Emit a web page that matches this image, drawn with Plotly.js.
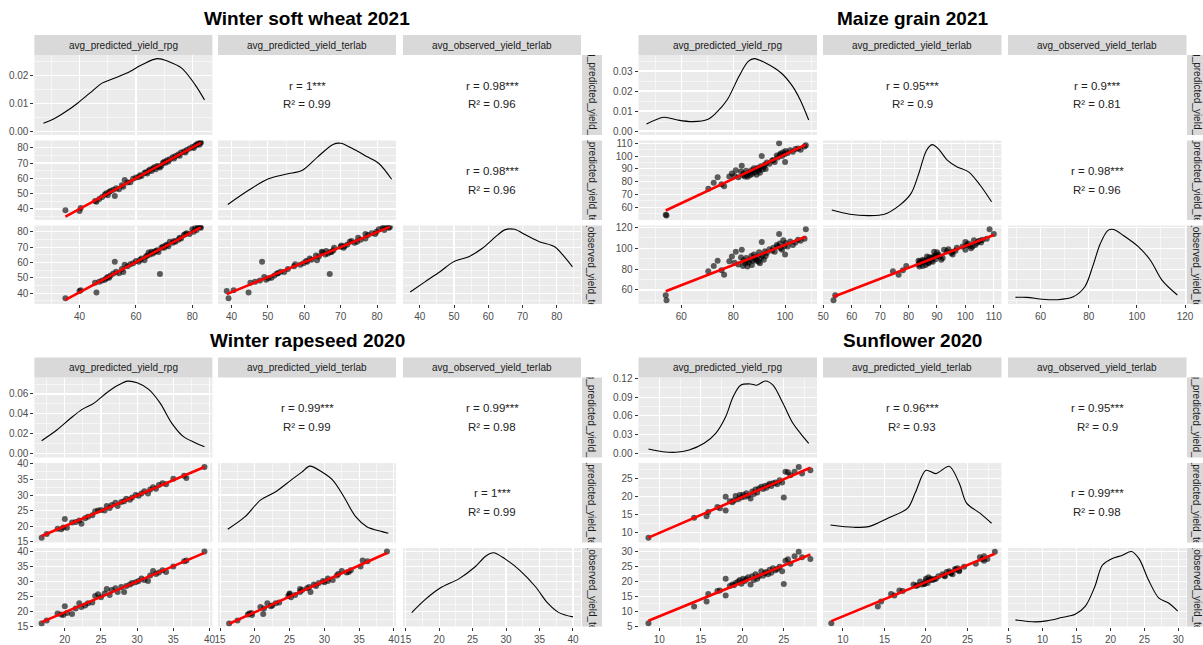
<!DOCTYPE html>
<html><head><meta charset="utf-8">
<script src="https://cdn.plot.ly/plotly-3.0.1.min.js"></script>
<style>html,body{margin:0;padding:0;background:#fff;}#chart{width:1203px;height:645px;}</style>
</head><body><div id="chart"></div>
<script>
// ---------------- DATA ----------------
const TITLES = ["Winter soft wheat 2021", "Maize grain 2021", "Winter rapeseed 2020", "Sunflower 2020"];
const VAR_LABELS = ["avg_predicted_yield_rpg", "avg_predicted_yield_terlab", "avg_observed_yield_terlab"];

// Winter soft wheat 2021
const wheatRpg  = [35.0,40.0,40.4,45.5,46.0,47.0,48.0,49.0,49.5,50.0,50.5,51.0,52.0,52.5,53.0,54.0,55.0,55.5,56.0,57.0,58.0,59.0,60.0,61.0,61.5,62.0,63.0,63.5,64.0,64.5,65.0,65.5,66.0,66.5,67.0,67.5,68.0,68.5,69.0,69.5,70.0,70.5,71.0,71.5,72.0,73.0,73.5,74.0,75.0,75.5,76.0,77.0,77.5,78.0,79.0,80.0,80.5,81.0,81.5,82.0,82.5,83.0,82.8];
const wheatPred = [39.2,38.7,40.6,45.2,44.7,46.5,47.8,49.5,50.2,49.0,51.0,51.8,52.5,48.4,53.5,52.8,55.5,54.5,58.9,57.2,57.5,59.8,60.5,60.8,62.0,61.5,63.5,64.0,63.2,65.0,65.8,64.8,66.5,67.2,66.0,68.0,67.5,67.0,68.2,70.0,70.8,70.2,71.8,71.0,72.5,73.8,73.0,74.5,75.5,74.8,76.8,77.5,76.8,78.5,79.5,80.5,79.8,81.5,82.0,82.8,82.0,83.2,83.5];
const wheatObs  = [36.8,41.5,42.0,46.8,40.5,47.5,48.3,48.8,49.8,50.5,50.0,51.5,52.8,60.5,54.0,53.0,55.8,53.8,58.5,57.5,58.8,59.5,61.0,60.5,61.8,62.5,61.5,63.8,64.5,66.5,65.2,67.0,65.8,66.8,67.5,68.0,66.8,52.5,69.5,70.2,69.5,71.0,71.5,70.5,73.5,72.8,74.0,73.5,74.8,76.0,75.5,77.8,78.5,79.0,78.5,81.5,80.0,82.5,81.0,83.2,83.5,82.5,83.0];
const wheatDensRpgX  = [27.2,31.3,35.3,39.3,43.6,48.0,51.4,56.8,62.1,67.5,71.5,76.2,81.0,84.3];
const wheatDensRpgY  = [0.0030,0.0048,0.0073,0.0102,0.0138,0.0174,0.0188,0.0210,0.0240,0.0262,0.0252,0.0228,0.0168,0.0114];
const wheatDensPredX = [39.0,44.8,50.0,55.2,59.5,63.7,67.9,70.0,73.1,77.3,80.5,84.0];
const wheatDensPredY = [0.0044,0.0096,0.0136,0.0154,0.0168,0.0216,0.0261,0.0265,0.0247,0.0216,0.0192,0.0135];
const wheatDensObsX  = [37.2,41.5,45.9,49.8,54.3,58.2,62.7,64.8,67.7,71.0,74.9,79.4,82.2,84.6];
const wheatDensObsY  = [0.0032,0.0069,0.0106,0.0142,0.0161,0.0191,0.0240,0.0259,0.0261,0.0240,0.0216,0.0197,0.0161,0.0124];
const wheatR  = ["r = 1***", "r = 0.98***", "r = 0.98***"];
const wheatR2 = ["R² = 0.99", "R² = 0.96", "R² = 0.96"];

// Maize grain 2021
const maizeRpg  = [54.0,54.3,70.4,72.5,74.0,75.5,76.5,78.5,79.5,80.5,81.0,82.0,83.0,83.3,83.8,84.0,84.5,85.0,85.2,85.5,86.0,86.5,87.0,87.2,87.5,88.0,88.3,88.6,89.0,89.5,89.8,90.0,90.3,90.7,91.0,91.3,91.8,92.2,92.5,93.0,94.0,95.0,95.5,96.0,96.8,97.2,97.7,98.0,98.3,98.8,99.3,99.8,100.0,100.2,101.0,102.0,103.0,104.0,105.0,106.0,107.5,108.0];
const maizePred = [54.2,53.6,74.5,79.2,83.5,78.0,76.5,84.0,86.5,84.5,89.0,83.5,88.0,92.5,85.0,86.5,84.0,88.5,85.5,83.8,87.0,85.0,89.0,86.0,88.0,90.5,87.2,89.5,85.5,91.0,88.5,90.0,87.0,92.0,100.0,89.5,91.5,93.5,90.0,95.0,94.0,96.5,97.0,95.5,100.5,99.0,110.0,101.0,102.0,100.0,103.0,101.5,95.5,104.0,102.5,104.5,103.5,105.5,106.0,105.0,107.5,108.5];
const maizeObs  = [55.0,50.2,78.0,83.0,88.0,79.0,74.5,87.5,92.0,86.0,96.5,84.5,91.0,98.5,83.0,88.5,85.5,90.5,87.0,82.5,86.0,89.0,92.5,84.0,88.0,94.0,91.0,89.5,88.0,92.0,87.0,96.0,85.5,90.5,106.0,93.0,89.0,97.0,92.5,95.5,99.0,97.5,100.5,96.5,103.0,101.5,113.5,104.5,100.0,98.5,107.5,102.0,94.0,105.0,101.5,106.5,103.0,105.5,108.0,107.0,109.0,118.0];
const maizeDensRpgX  = [46.6,53.3,58.5,64.4,70.3,73.3,77.7,82.2,85.8,88.1,92.5,98.5,102.9,105.8,109.1];
const maizeDensRpgY  = [0.0035,0.0069,0.0055,0.0047,0.0059,0.0089,0.0156,0.0273,0.0348,0.0362,0.0340,0.0290,0.0223,0.0156,0.0055];
const maizeDensPredX = [53.0,59.3,66.1,71.5,76.9,80.9,83.6,86.3,88.3,90.4,93.7,97.1,101.1,105.2,109.2];
const maizeDensPredY = [0.0030,0.0009,0.0002,0.0009,0.0055,0.0114,0.0214,0.0330,0.0359,0.0339,0.0280,0.0247,0.0222,0.0155,0.0072];
const maizeDensObsX  = [49.6,54.4,60.8,67.2,73.6,78.4,81.6,84.8,88.0,90.4,94.4,100.8,105.6,110.4,116.8];
const maizeDensObsY  = [0.0014,0.0014,0.0004,0.0002,0.0017,0.0068,0.0169,0.0287,0.0355,0.0360,0.0329,0.0270,0.0203,0.0102,0.0026];
const maizeR  = ["r = 0.95***", "r = 0.9***", "r = 0.98***"];
const maizeR2 = ["R² = 0.9", "R² = 0.81", "R² = 0.96"];

// Winter rapeseed 2020
const rapeRpg  = [16.8,17.5,19.0,19.5,19.8,20.0,20.3,21.0,21.5,22.0,22.3,22.8,23.2,23.8,24.2,24.6,25.0,25.5,25.8,26.2,26.5,27.0,27.3,27.8,28.2,28.5,29.0,29.3,29.8,30.2,30.6,31.0,31.5,31.8,32.2,32.6,33.0,33.5,34.0,35.0,36.5,36.8,39.3];
const rapePred = [16.3,17.5,19.2,19.0,19.6,22.3,19.5,21.2,21.3,21.8,20.8,22.5,23.0,23.5,24.8,25.0,25.2,25.0,26.5,25.8,26.8,27.5,26.5,27.8,28.0,28.8,28.5,29.2,30.0,29.8,30.5,31.2,30.5,31.8,32.5,32.0,33.2,33.8,33.5,35.2,36.2,35.5,39.0];
const rapeObs  = [16.0,17.0,19.3,19.0,18.8,21.8,19.5,19.2,21.0,22.8,21.5,22.0,22.8,23.0,25.2,25.8,24.8,26.0,27.5,25.5,27.2,27.8,26.5,28.2,26.5,28.5,29.0,29.5,29.8,30.2,31.0,30.5,30.2,32.0,33.5,32.5,33.0,33.8,33.2,35.0,36.8,37.0,40.0];
const rapeDensRpgX  = [16.8,18.9,20.8,22.4,24.0,25.8,27.4,28.7,30.0,31.6,33.2,34.8,36.4,38.0,39.3];
const rapeDensRpgY  = [0.0127,0.0235,0.0354,0.0444,0.0505,0.0612,0.0690,0.0730,0.0713,0.0646,0.0505,0.0303,0.0168,0.0107,0.0067];
const rapeDensPredX = [16.1,18.6,20.8,23.0,25.2,26.8,27.9,29.6,31.2,32.8,34.5,36.1,38.3,39.2];
const rapeDensPredY = [0.0092,0.0220,0.0389,0.0474,0.0592,0.0677,0.0735,0.0677,0.0592,0.0423,0.0220,0.0118,0.0068,0.0051];
const rapeDensObsX  = [15.9,17.9,20.1,23.0,25.3,27.0,28.1,29.9,32.1,34.4,36.2,37.9,40.0];
const rapeDensObsY  = [0.0100,0.0234,0.0351,0.0451,0.0568,0.0685,0.0718,0.0652,0.0534,0.0367,0.0200,0.0100,0.0056];
const rapeR  = ["r = 0.99***", "r = 0.99***", "r = 1***"];
const rapeR2 = ["R² = 0.99", "R² = 0.98", "R² = 0.99"];

// Sunflower 2020
const sunRpg  = [8.7,14.2,15.7,15.9,17.0,17.3,18.0,18.0,18.5,18.8,19.0,19.2,19.5,19.7,19.9,20.1,20.3,20.5,20.7,21.0,21.2,21.4,21.6,21.8,22.0,22.3,22.5,22.7,22.9,23.1,23.3,23.5,23.7,24.0,24.2,24.5,24.8,25.0,25.2,25.5,25.8,26.3,26.8,27.2,28.2];
const sunPred = [8.6,14.2,14.6,15.8,17.2,16.8,20.0,16.2,18.8,18.5,19.0,20.2,19.3,20.5,19.8,20.6,20.0,21.0,20.3,19.5,21.5,20.8,22.0,21.2,22.3,22.8,22.2,23.0,22.5,23.2,23.6,23.0,23.8,24.0,23.5,24.6,24.0,19.8,27.0,26.8,26.0,27.0,28.3,26.5,27.4];
const sunObs  = [6.0,11.6,13.3,15.8,16.8,17.0,21.0,15.3,18.5,19.0,18.8,19.5,20.0,20.5,19.3,21.0,20.2,20.8,21.5,19.0,21.8,20.5,22.5,21.0,21.8,23.5,22.0,22.8,23.2,22.5,24.0,23.0,24.5,23.8,24.2,25.0,23.5,19.2,27.0,27.5,26.0,28.5,30.0,28.2,27.6];
const sunDensRpgX  = [8.7,10.4,12.0,13.6,15.4,16.8,18.0,18.9,19.8,21.0,21.7,22.8,23.7,24.9,26.1,27.0,28.0];
const sunDensRpgY  = [0.0069,0.0026,0.0016,0.0053,0.0160,0.0320,0.0586,0.0906,0.1090,0.1110,0.1090,0.1157,0.1090,0.0800,0.0480,0.0320,0.0160];
const sunDensPredX = [8.5,11.3,13.1,15.4,17.8,18.7,20.0,21.2,22.8,24.0,24.9,26.5,27.9];
const sunDensPredY = [0.0215,0.0178,0.0188,0.0324,0.0486,0.0729,0.1095,0.1042,0.1160,0.0891,0.0567,0.0405,0.0243];
const sunDensObsX  = [6.0,8.9,10.6,12.8,14.8,16.3,17.7,18.8,20.2,21.7,23.1,24.2,25.6,27.1,28.5,29.9];
const sunDensObsY  = [0.0041,0.0009,0.0025,0.0079,0.0132,0.0265,0.0585,0.0932,0.1039,0.1092,0.1156,0.1039,0.0692,0.0399,0.0319,0.0185];
const sunR  = ["r = 0.96***", "r = 0.95***", "r = 0.99***"];
const sunR2 = ["R² = 0.93", "R² = 0.9", "R² = 0.98"];

// ---------------- CHART CONFIG ----------------
const W = 1203, H = 645;
const FONT = "'Liberation Sans', Arial, sans-serif";
const FIGS = [
  {title: TITLES[0], v: [wheatRpg, wheatPred, wheatObs],
   dens: [[wheatDensRpgX, wheatDensRpgY], [wheatDensPredX, wheatDensPredY], [wheatDensObsX, wheatDensObsY]],
   r: wheatR, r2: wheatR2,
   xr: [[24, 87.1], [36.3, 85.2], [35.1, 87.1]], xd: [20, 10, 10],
   yr: [[-0.0012, 0.0275], [32.8, 84.7], [33.0, 84.0]], yd: [0.01, 10, 10]},
  {title: TITLES[1], v: [maizeRpg, maizePred, maizeObs],
   dens: [[maizeDensRpgX, maizeDensRpgY], [maizeDensPredX, maizeDensPredY], [maizeDensObsX, maizeDensObsY]],
   r: maizeR, r2: maizeR2,
   xr: [[43.5, 112.3], [49.9, 112.7], [46.5, 120.6]], xd: [20, 10, 20],
   yr: [[-0.002, 0.038], [50.1, 112.2], [46.6, 121.7]], yd: [0.01, 10, 20]},
  {title: TITLES[2], v: [rapeRpg, rapePred, rapeObs],
   dens: [[rapeDensRpgX, rapeDensRpgY], [rapeDensPredX, rapeDensPredY], [rapeDensObsX, rapeDensObsY]],
   r: rapeR, r2: rapeR2,
   xr: [[15.8, 40.4], [14.7, 40.3], [14.6, 41.2]], xd: [5, 5, 5],
   yr: [[-0.0043, 0.0767], [14.74, 40.3], [15.0, 41.2]], yd: [0.02, 5, 5]},
  {title: TITLES[3], v: [sunRpg, sunPred, sunObs],
   dens: [[sunDensRpgX, sunDensRpgY], [sunDensPredX, sunDensPredY], [sunDensObsX, sunDensObsY]],
   r: sunR, r2: sunR2,
   xr: [[7.5, 29.0], [7.6, 29.1], [4.9, 31.2]], xd: [5, 5, 5],
   yr: [[-0.0067, 0.1213], [7.3, 29.4], [4.9, 31.3]], yd: [0.03, 5, 5]}
];
const GEO = [
  {colL: [34.4, 218, 403], colW: 178, yOff: 0, rstrip: 582, titleX: 307},
  {colL: [638.5, 823, 1008], colW: 178.5, yOff: 0, rstrip: 1187, titleX: 912},
  {colL: [34.4, 218, 403], colW: 178, yOff: 322.5, rstrip: 582, titleX: 307},
  {colL: [638.5, 823, 1008], colW: 178.5, yOff: 322.5, rstrip: 1187, titleX: 912}
];
const ROWS = [[55, 135], [140.5, 220], [225.5, 304]];
const STRIP = [35, 55];
const STRIP_FILL = '#D9D9D9';

function lm(x, y) {
  const n = x.length;
  let mx = 0, my = 0;
  for (let i = 0; i < n; i++) { mx += x[i]; my += y[i]; }
  mx /= n; my /= n;
  let sxy = 0, sxx = 0;
  for (let i = 0; i < n; i++) { sxy += (x[i]-mx)*(y[i]-my); sxx += (x[i]-mx)*(x[i]-mx); }
  const b = sxy / sxx, a = my - b*mx;
  const x0 = Math.min(...x), x1 = Math.max(...x);
  return {x: [x0, x1], y: [a + b*x0, a + b*x1]};
}
function baseAxis(o) {
  return Object.assign({
    showline: false, zeroline: false, showgrid: true,
    gridcolor: '#FFFFFF', gridwidth: 1.1,
    ticks: 'outside', ticklen: 3, tickwidth: 1, tickcolor: '#333333',
    tickfont: {family: FONT, size: 10, color: '#4D4D4D'},
    fixedrange: true
  }, o);
}
const pX = v => v / W;
const pY = v => 1 - v / H;

const traces = [];
const layout = {
  width: W, height: H, margin: {l: 0, r: 0, t: 0, b: 0},
  paper_bgcolor: '#FFFFFF', plot_bgcolor: '#EBEBEB', showlegend: false,
  font: {family: FONT}, shapes: [], annotations: []
};

FIGS.forEach((f, i) => {
  const g = GEO[i];
  const xi = [1,2,3].map(k => 3*i + k);
  const yi = [1,2,3,4,5].map(k => 5*i + k);
  const xn = xi.map(n => n === 1 ? 'x' : 'x' + n);
  const yn = yi.map(n => n === 1 ? 'y' : 'y' + n);
  const xk = n => n === 1 ? 'xaxis' : 'xaxis' + n;
  const yk = n => n === 1 ? 'yaxis' : 'yaxis' + n;
  const rowsPx = ROWS.map(r => [r[0] + g.yOff, r[1] + g.yOff]);
  const xdom = c => [pX(g.colL[c]), pX(g.colL[c] + g.colW)];
  const ydom = r => [pY(rowsPx[r][1]), pY(rowsPx[r][0])];

  for (let c = 0; c < 3; c++) {
    layout[xk(xi[c])] = baseAxis({
      domain: xdom(c), range: f.xr[c], tick0: 0, dtick: f.xd[c],
      minor: {dtick: f.xd[c]/2, tick0: 0, showgrid: true, gridcolor: '#FFFFFF', gridwidth: 0.55, ticks: ''},
      anchor: c < 2 ? yn[2] : yn[4]
    });
  }
  for (let r = 0; r < 3; r++) {
    layout[yk(yi[r])] = baseAxis({
      domain: ydom(r), range: f.yr[r], tick0: 0, dtick: f.yd[r],
      tickformat: r === 0 ? '.2f' : '',
      minor: {dtick: f.yd[r]/2, tick0: 0, showgrid: true, gridcolor: '#FFFFFF', gridwidth: 0.55, ticks: ''},
      anchor: xn[0]
    });
  }
  [[1, 3, 1], [2, 4, 2]].forEach(([r, yIdx, col]) => {
    const dr = f.yr[0], rr = f.yr[r];
    const k = (dr[1] - dr[0]) / (rr[1] - rr[0]);
    const t0 = dr[0] + (0 - rr[0]) * k;
    layout[yk(yi[yIdx])] = baseAxis({
      domain: ydom(r), range: dr, tick0: t0, dtick: f.yd[r]*k,
      showticklabels: false, ticks: '',
      minor: {dtick: f.yd[r]/2*k, tick0: t0, showgrid: true, gridcolor: '#FFFFFF', gridwidth: 0.55, ticks: ''},
      anchor: xn[col]
    });
  });

  const dens = (d, xa, ya) => traces.push({type: 'scatter', mode: 'lines', x: d[0], y: d[1], xaxis: xa, yaxis: ya,
    line: {color: '#000000', width: 1.1, shape: 'spline', smoothing: 0.9}, hoverinfo: 'skip'});
  const pts = (x, y, xa, ya) => {
    traces.push({type: 'scatter', mode: 'markers', x: x, y: y, xaxis: xa, yaxis: ya,
      marker: {size: 6, color: 'rgba(0,0,0,0.62)', line: {width: 0}}, hoverinfo: 'skip'});
    const fit = lm(x, y);
    traces.push({type: 'scatter', mode: 'lines', x: fit.x, y: fit.y, xaxis: xa, yaxis: ya,
      line: {color: '#FF0000', width: 2.6}, hoverinfo: 'skip'});
  };
  dens(f.dens[0], xn[0], yn[0]);
  pts(f.v[0], f.v[1], xn[0], yn[1]);
  pts(f.v[0], f.v[2], xn[0], yn[2]);
  dens(f.dens[1], xn[1], yn[3]);
  pts(f.v[1], f.v[2], xn[1], yn[2]);
  dens(f.dens[2], xn[2], yn[4]);

  layout.annotations.push({xref: 'paper', yref: 'paper', x: pX(g.titleX), y: pY(18 + g.yOff),
    xanchor: 'center', yanchor: 'middle', showarrow: false,
    text: '<b>' + f.title + '</b>', font: {family: FONT, size: 19, color: '#000000'}});
  for (let c = 0; c < 3; c++) {
    layout.shapes.push({type: 'rect', xref: 'paper', yref: 'paper',
      x0: pX(g.colL[c]), x1: pX(g.colL[c] + g.colW), y0: pY(STRIP[1] + g.yOff), y1: pY(STRIP[0] + g.yOff),
      fillcolor: STRIP_FILL, line: {width: 0}, layer: 'below'});
    layout.annotations.push({xref: 'paper', yref: 'paper', x: pX(g.colL[c] + g.colW/2), y: pY((STRIP[0]+STRIP[1])/2 + g.yOff),
      xanchor: 'center', yanchor: 'middle', showarrow: false, text: VAR_LABELS[c],
      font: {family: FONT, size: 10, color: '#1A1A1A'}});
  }
  for (let r = 0; r < 3; r++) {
    const hgt = rowsPx[r][1] - rowsPx[r][0];
    layout.shapes.push({type: 'rect', xref: 'paper', yref: 'paper',
      x0: pX(g.rstrip), x1: pX(g.rstrip + 20), y0: pY(rowsPx[r][1]), y1: pY(rowsPx[r][0]),
      fillcolor: STRIP_FILL, line: {width: 0}, layer: 'below'});
    layout.annotations.push({xref: 'paper', yref: 'paper', x: pX(g.rstrip + 10), y: pY((rowsPx[r][0]+rowsPx[r][1])/2),
      xanchor: 'center', yanchor: 'middle', showarrow: false, text: VAR_LABELS[r], textangle: 90,
      width: hgt, height: 14,
      font: {family: FONT, size: 10, color: '#1A1A1A'}});
  }
  [[0, 1, 0], [0, 2, 1], [1, 2, 2]].forEach(([r, c, k]) => {
    const cx = g.colL[c] + g.colW/2;
    const cy = (rowsPx[r][0] + rowsPx[r][1]) / 2;
    layout.annotations.push({xref: 'paper', yref: 'paper', x: pX(cx), y: pY(cy - 9.5),
      xanchor: 'center', yanchor: 'middle', showarrow: false, text: f.r[k],
      font: {family: FONT, size: 11.5, color: '#222222'}});
    layout.annotations.push({xref: 'paper', yref: 'paper', x: pX(cx), y: pY(cy + 9.5),
      xanchor: 'center', yanchor: 'middle', showarrow: false, text: f.r2[k],
      font: {family: FONT, size: 11.5, color: '#222222'}});
  });
});

Plotly.newPlot('chart', traces, layout, {staticPlot: true, displayModeBar: false});
</script>
</body></html>
